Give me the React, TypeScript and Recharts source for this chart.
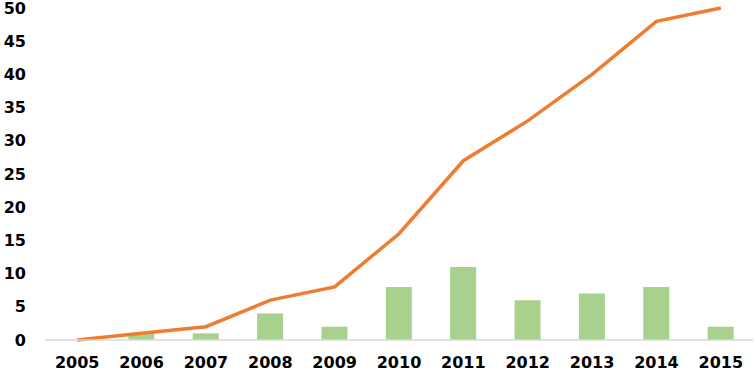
import { Bar, ComposedChart, Line, XAxis, YAxis } from "recharts";

const years = ["2005", "2006", "2007", "2008", "2009", "2010", "2011", "2012", "2013", "2014", "2015"];
const perYear = [0, 1, 1, 4, 2, 8, 11, 6, 7, 8, 2];
const cumulative = [0, 1, 2, 6, 8, 16, 27, 33, 40, 48, 50];
const yTicks = [0, 5, 10, 15, 20, 25, 30, 35, 40, 45, 50];

const data = years.map((year, i) => ({
  year,
  perYear: perYear[i],
  cumulative: cumulative[i],
}));

const tickStyle = {
  fill: "#000",
  fontSize: 16,
  fontWeight: 700,
  fontFamily: "DejaVu Sans, Verdana, sans-serif",
};

export default function App() {
  return (
    <div style={{ position: "absolute", left: 0, top: 0, background: "#fff" }}>
      <ComposedChart
        width={756}
        height={379}
        data={data}
        margin={{ top: 8, right: 3, bottom: 0, left: 0 }}
      >
        <XAxis
          dataKey="year"
          tick={tickStyle}
          tickLine={false}
          tickSize={0}
          tickMargin={17}
          height={39}
          axisLine={{ stroke: "#d9d9d9", strokeWidth: 1.5 }}
        />
        <YAxis
          domain={[0, 50]}
          ticks={yTicks}
          tick={tickStyle}
          tickLine={false}
          tickSize={0}
          tickMargin={19}
          axisLine={false}
          width={45}
          interval={0}
        />
        <Bar dataKey="perYear" fill="#a9d18e" barSize={26} isAnimationActive={false} />
        <Line
          type="linear"
          dataKey="cumulative"
          stroke="#ed7d31"
          strokeWidth={3.5}
          dot={false}
          isAnimationActive={false}
        />
      </ComposedChart>
    </div>
  );
}
